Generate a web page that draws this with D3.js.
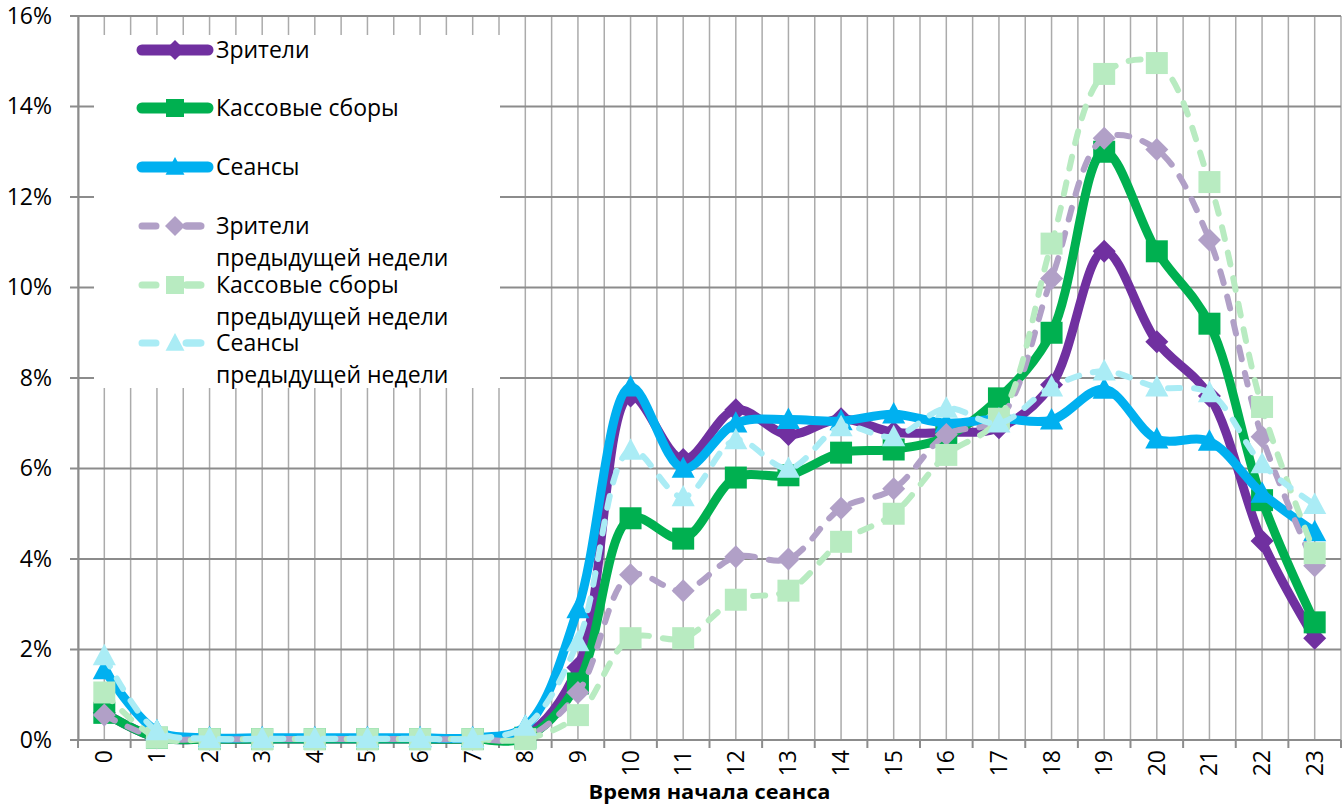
<!DOCTYPE html>
<html>
<head>
<meta charset="utf-8">
<script src="https://cdn.jsdelivr.net/npm/d3@7"></script>
<style>
body { margin: 0; background: #fff; }
text { font-family: "Open Sans", sans-serif; fill: #000; }
</style>
</head>
<body>
<div id="chart"></div>
<script>
// hours of session start
var hours = d3.range(0, 24).map(String);

// values, % of day total
var viewers     = [0.6, 0.05, 0.02, 0.02, 0.02, 0.02, 0.02, 0.02, 0.1, 1.6, 7.6, 6.2, 7.3, 6.75, 7.1, 6.8, 6.8, 6.9, 7.85, 10.8, 8.8, 7.6, 4.4, 2.25];
var boxOffice   = [0.6, 0.05, 0.02, 0.02, 0.02, 0.02, 0.02, 0.02, 0.05, 1.25, 4.9, 4.45, 5.8, 5.85, 6.35, 6.42, 6.7, 7.55, 9.0, 13.0, 10.8, 9.2, 5.3, 2.6];
var sessions    = [1.55, 0.2, 0.05, 0.05, 0.05, 0.05, 0.05, 0.05, 0.3, 2.9, 7.8, 6.0, 7.0, 7.08, 7.05, 7.2, 7.0, 7.1, 7.07, 7.75, 6.65, 6.6, 5.45, 4.6];
var viewersPrev = [0.55, 0.05, 0.02, 0.02, 0.02, 0.02, 0.02, 0.02, 0.05, 1.05, 3.65, 3.3, 4.05, 4.0, 5.12, 5.55, 6.75, 7.1, 10.2, 13.3, 13.05, 11.05, 6.7, 3.85];
var boxPrev     = [1.05, 0.05, 0.02, 0.02, 0.02, 0.02, 0.02, 0.02, 0.02, 0.55, 2.25, 2.25, 3.1, 3.3, 4.38, 5.0, 6.3, 7.1, 10.97, 14.72, 14.96, 12.33, 7.36, 4.13];
var sessPrev    = [1.86, 0.2, 0.03, 0.03, 0.03, 0.03, 0.03, 0.03, 0.3, 2.17, 6.4, 5.37, 6.63, 6.0, 6.92, 6.7, 7.33, 7.0, 7.8, 8.15, 7.8, 7.67, 6.1, 5.2];

var yTicks = [0, 2, 4, 6, 8, 10, 12, 14, 16];

var series = [
    { name: ["Зрители"], values: viewers, color: "#7030A0", marker: "diamond", dashed: false },
    { name: ["Кассовые сборы"], values: boxOffice, color: "#00B050", marker: "square", dashed: false },
    { name: ["Сеансы"], values: sessions, color: "#00B0F0", marker: "triangle", dashed: false },
    { name: ["Зрители", "предыдущей недели"], values: viewersPrev, color: "#B1A0C7", marker: "diamond", dashed: true },
    { name: ["Кассовые сборы", "предыдущей недели"], values: boxPrev, color: "#B8EBC1", marker: "square", dashed: true },
    { name: ["Сеансы", "предыдущей недели"], values: sessPrev, color: "#AAECF5", marker: "triangle", dashed: true }
];

var svgWidth = 1343;
var svgHeight = 806;
var margin = { top: 16, right: 2, bottom: 66, left: 78 };
var width = svgWidth - margin.left - margin.right;
var height = svgHeight - margin.top - margin.bottom;

var svg = d3.select("#chart")
    .append("svg")
    .attr("width", svgWidth)
    .attr("height", svgHeight);

var chartGroup = svg.append("g")
    .attr("transform", `translate(${margin.left}, ${margin.top})`);

var xScale = d3.scaleBand().domain(hours).range([0, width]).padding(0);
var bw = xScale.bandwidth();
var cx = d => xScale(d) + bw / 2;
var yScale = d3.scaleLinear().domain([0, 16]).range([height, 0]);

// vertical grid: band edges and centers
var vLines = [];
hours.forEach(function(h) { vLines.push(xScale(h)); vLines.push(cx(h)); });
vLines.push(width);
chartGroup.append("g").selectAll("line")
    .data(vLines)
    .enter()
    .append("line")
    .attr("x1", d => d).attr("x2", d => d)
    .attr("y1", 0).attr("y2", height)
    .attr("stroke", "#ababab")
    .attr("stroke-width", 1.5);

// horizontal grid
chartGroup.append("g").selectAll("line")
    .data(yTicks)
    .enter()
    .append("line")
    .attr("x1", -8).attr("x2", width)
    .attr("y1", d => yScale(d)).attr("y2", d => yScale(d))
    .attr("stroke", "#8c8c8c")
    .attr("stroke-width", 2);

// y axis
var leftAxis = d3.axisLeft(yScale).tickValues(yTicks).tickSize(0).tickPadding(26).tickFormat(d => d + "%");
var yAxis = chartGroup.append("g").call(leftAxis);
yAxis.select(".domain").attr("stroke", "#8c8c8c").attr("stroke-width", 2);
yAxis.selectAll("text").style("font-size", "23px").style("font-family", "Open Sans");

// x axis line and ticks at band edges
chartGroup.append("line")
    .attr("x1", 0).attr("x2", width)
    .attr("y1", height).attr("y2", height)
    .attr("stroke", "#8c8c8c").attr("stroke-width", 2);
chartGroup.append("g").selectAll("line")
    .data(hours.map(h => xScale(h)).concat([width]))
    .enter()
    .append("line")
    .attr("x1", d => d).attr("x2", d => d)
    .attr("y1", height).attr("y2", height + 8)
    .attr("stroke", "#8c8c8c").attr("stroke-width", 2);

chartGroup.append("g").selectAll("text")
    .data(hours)
    .enter()
    .append("text")
    .attr("transform", d => `translate(${cx(d) + 8}, ${height + 10}) rotate(-90)`)
    .attr("text-anchor", "end")
    .style("font-size", "23px")
    .text(d => d);

chartGroup.append("text")
    .attr("x", xScale("12"))
    .attr("y", height + 59)
    .attr("text-anchor", "middle")
    .style("font-size", "20px")
    .style("font-weight", "bold")
    .attr("textLength", 242)
    .attr("lengthAdjust", "spacingAndGlyphs")
    .text("Время начала сеанса");

// marker shapes
function markerPath(type, s) {
    if (type === "diamond") return `M0,${-s}L${s},0L0,${s}L${-s},0Z`;
    if (type === "square") return `M${-s},${-s}H${s}V${s}H${-s}Z`;
    return `M0,${-s * 1.1}L${s * 1.05},${s * 0.85}L${-s * 1.05},${s * 0.85}Z`;
}

var line = d3.line()
    .x((d, i) => cx(hours[i]))
    .y(d => yScale(d))
    .curve(d3.curveCatmullRom.alpha(0.5));

// legend box (drawn before series; series do not reach it)
var legend = svg.append("g");
legend.append("rect")
    .attr("x", 94).attr("y", 35)
    .attr("width", 406).attr("height", 353)
    .attr("fill", "#fff");

series.forEach(function(s) {
    var g = chartGroup.append("g");
    g.append("path")
        .datum(s.values)
        .attr("d", line)
        .attr("fill", "none")
        .attr("stroke", s.color)
        .attr("stroke-width", s.dashed ? 6 : 9)
        .attr("stroke-linecap", "round")
        .attr("stroke-linejoin", "round")
        .attr("stroke-dasharray", s.dashed ? "12,14" : null);
    g.selectAll("path.mk")
        .data(s.values)
        .enter()
        .append("path")
        .classed("mk", true)
        .attr("transform", (d, i) => `translate(${cx(hours[i])}, ${yScale(d)})`)
        .attr("d", markerPath(s.marker, s.marker === "diamond" ? 11.5 : 11))
        .attr("fill", s.color);
});

// legend entries
var legendRows = [50, 108, 167, 226, 285, 343];
series.forEach(function(s, i) {
    var y = legendRows[i];
    var g = legend.append("g");
    g.append("line")
        .attr("x1", 142).attr("x2", 208)
        .attr("y1", y).attr("y2", y)
        .attr("stroke", s.color)
        .attr("stroke-width", s.dashed ? 7 : 11)
        .attr("stroke-linecap", "round")
        .attr("stroke-dasharray", s.dashed ? "14,30" : null);
    if (s.dashed) {
        g.append("line")
            .attr("x1", 187).attr("x2", 201)
            .attr("y1", y).attr("y2", y)
            .attr("stroke", s.color).attr("stroke-width", 7)
            .attr("stroke-linecap", "round");
    }
    g.append("path")
        .attr("transform", `translate(175, ${y})`)
        .attr("d", markerPath(s.marker, s.marker === "diamond" ? 10 : 9))
        .attr("fill", s.color);
    s.name.forEach(function(t, j) {
        g.append("text")
            .attr("x", 216)
            .attr("y", y + 8 + j * 32)
            .style("font-size", "23px")
            .text(t);
    });
});
</script>
</body>
</html>
